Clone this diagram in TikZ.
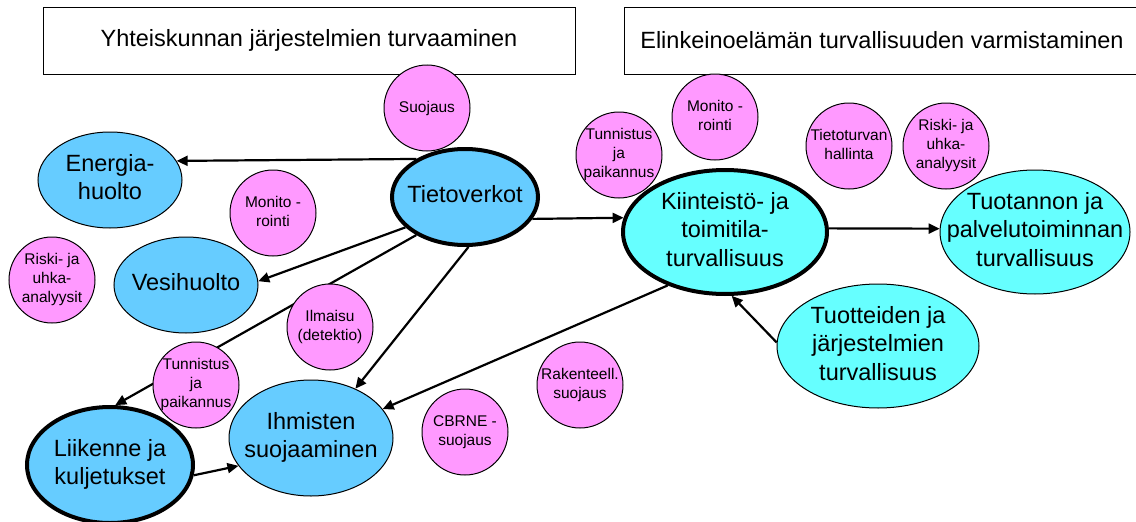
\documentclass[tikz,border=0pt]{standalone}
\usepackage{fontspec}
\setmainfont{Liberation Sans}
\usetikzlibrary{shapes.geometric,arrows.meta,backgrounds}
\definecolor{sblue}{RGB}{102,204,255}
\definecolor{scyan}{RGB}{102,255,255}
\definecolor{spink}{RGB}{255,153,255}
\newcommand{\ctext}[1]{\makebox[0pt]{\begin{tabular}{@{}c@{}}#1\end{tabular}}}

\begin{document}
\begin{tikzpicture}[x=1pt, y=-1pt,
    title/.style={draw, line width=1pt, minimum height=67pt, inner sep=0pt,
                  font=\fontsize{23.5}{28.5}\selectfont},
    area/.style={ellipse, draw, line width=1pt, inner sep=0pt,
                 font=\fontsize{23.5}{28.5}\selectfont},
    core/.style={area, line width=4pt},
    topic/.style={circle, draw, line width=1pt, fill=spink, minimum size=86pt,
                  inner sep=0pt, font=\fontsize{15.5}{19}\selectfont},
    arr/.style={-{Triangle[length=11pt,width=10pt]}, line width=2.2pt}
]
\useasboundingbox (0,0) rectangle (1136,522);

\node[title, minimum width=532pt] (society) at (309,40.5) {Yhteiskunnan järjestelmien turvaaminen};
\node[title, minimum width=516pt] (business) at (882,40.5) {Elinkeinoelämän turvallisuuden varmistaminen};

% yhteiskunnan puoli
\node[topic] (suojaus) at (427,108) {Suojaus};
\node[topic] (monitoL) at (273,213) {\ctext{Monito -\\rointi}};
\node[topic] (riskiL) at (52,280) {\ctext{Riski- ja\\uhka-\\analyysit}};
\node[topic] (ilmaisu) at (330,327) {\ctext{Ilmaisu\\(detektio)}};
\node[topic] (tunnL) at (196,385) {\ctext{Tunnistus\\ja\\paikannus}};
\node[topic] (cbrne) at (465,432) {\ctext{CBRNE -\\suojaus}};
\node[topic] (rak) at (580,385) {\ctext{Rakenteell.\\suojaus}};

\node[area, fill=sblue, minimum width=144pt, minimum height=96pt] (energia) at (110,180) {\ctext{Energia-\\huolto}};
\node[core, fill=sblue, minimum width=146pt, minimum height=96pt] (tieto) at (465,197) {\ctext{Tietoverkot}};
\node[area, fill=sblue, minimum width=144pt, minimum height=96pt] (vesi) at (186,285) {\ctext{Vesihuolto}};
\node[core, fill=sblue, minimum width=166pt, minimum height=116pt] (liik) at (110,465) {\ctext{Liikenne ja\\kuljetukset}};
\node[area, fill=sblue, minimum width=164pt, minimum height=116pt] (ihm) at (311,438) {\ctext{Ihmisten\\suojaaminen}};

% elinkeinoelämän puoli
\node[topic] (tunnR) at (619,155) {\ctext{Tunnistus\\ja\\paikannus}};
\node[topic] (monitoR) at (715,117) {\ctext{Monito -\\rointi}};
\node[topic] (tietot) at (849,146) {\ctext{Tietoturvan\\hallinta}};
\node[topic] (riskiR) at (946,146) {\ctext{Riski- ja\\uhka-\\analyysit}};

\node[core, fill=scyan, minimum width=204pt, minimum height=124pt] (kiint) at (725,232) {\ctext{Kiinteistö- ja\\toimitila-\\turvallisuus}};
\node[area, fill=scyan, minimum width=190pt, minimum height=124pt] (tuot) at (1035,232) {\ctext{Tuotannon ja\\palvelutoiminnan\\turvallisuus}};
\node[area, fill=scyan, minimum width=202pt, minimum height=124pt] (tuotteid) at (878,346) {\ctext{Tuotteiden ja\\järjestelmien\\turvallisuus}};

\begin{scope}[on background layer]
\draw[arr] (tieto.142) -- (energia.16);
\draw[arr] (tieto.207) -- (vesi.3);
\draw[arr] (tieto.218) -- (liik.85);
\draw[arr] (tieto.274) -- (ihm.48);
\draw[arr] (tieto.342) -- (kiint.172);
\draw[arr] (kiint.223) -- (ihm.22);
\draw[arr] (kiint.2) -- (tuot.178);
\draw[arr] (tuotteid.178) -- (kiint.276);
\draw[arr] (liik.353) -- (ihm.201);
\end{scope}

\end{tikzpicture}
\end{document}
